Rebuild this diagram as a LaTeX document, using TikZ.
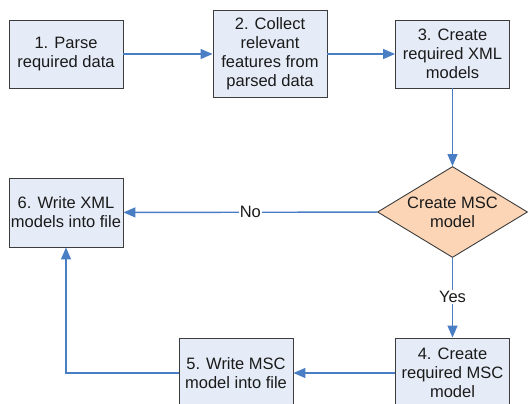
\documentclass[tikz,border=0pt]{standalone}
\usepackage{fontspec}
\setmainfont{Liberation Sans}
\usetikzlibrary{shapes.geometric,arrows.meta}

\definecolor{boxfill}{HTML}{E6ECF7}
\definecolor{boxline}{HTML}{3C3C3C}
\definecolor{flow}{HTML}{4A7EC4}
\definecolor{decfill}{HTML}{FBD5B5}
\definecolor{ink}{HTML}{1A1A1A}

\newcommand{\labelfont}{\fontsize{16.5}{19}\selectfont}

\tikzset{
  stepbox/.style={draw=boxline, line width=0.9pt, fill=boxfill, rectangle,
    minimum width=114pt, minimum height=68pt, inner sep=0pt,
    align=center, text=ink, font=\labelfont},
  decision/.style={draw=boxline, line width=0.9pt, fill=decfill, diamond,
    minimum width=150pt, minimum height=91pt, inner sep=0pt, aspect=1.65,
    align=center, text=ink, font=\labelfont},
  flowarrow/.style={draw=flow, line width=1.4pt,
    -{Triangle[length=12pt,width=10pt]}},
  flowlabel/.style={fill=white, text=ink, inner sep=1pt, font=\labelfont}
}

\begin{document}
\begin{tikzpicture}[x=1pt, y=-1pt]
  \useasboundingbox (0,0) rectangle (528,404);

  % process steps
  \node[stepbox] (s1) at (66,54) {1. Parse\\required data};
  \node[stepbox, minimum height=87pt] (s2) at (270,54) {2. Collect\\relevant\\features from\\parsed data};
  \node[stepbox] (s3) at (452.5,54) {3. Create\\required XML\\models};
  \node[decision] (d) at (452.5,212) {Create MSC\\model};
  \node[stepbox, minimum height=69pt] (s6) at (66,212.5) {6. Write XML\\models into file};
  \node[stepbox, minimum height=70pt] (s4) at (452.5,373) {4. Create\\required MSC\\model};
  \node[stepbox, minimum height=70pt] (s5) at (236,373) {5. Write MSC\\model into file};

  % flow
  \draw[flowarrow] (s1) -- (s2);
  \draw[flowarrow] (s2.east |- s1) -- (s3);
  \draw[flowarrow] (s3) -- (d);
  \draw[flowarrow] (d) -- node[flowlabel, pos=0.5] (no) {No} (s6);
  \draw[flowarrow] (d) -- node[flowlabel, pos=0.49] (yes) {Yes} (s4);
  \draw[flowarrow] (s4) -- (s5);
  \draw[flowarrow] (s5.west) -| (s6.south);
\end{tikzpicture}
\end{document}
